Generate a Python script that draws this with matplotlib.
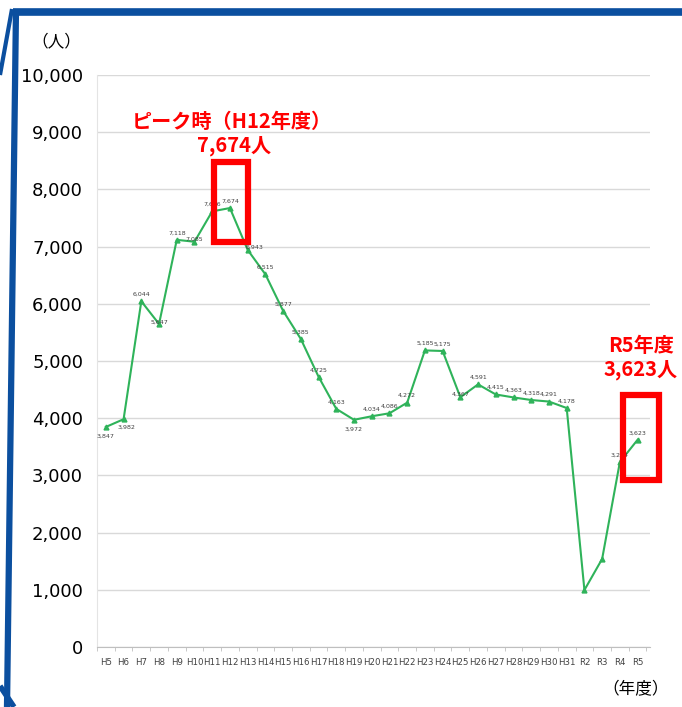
import numpy as np
import matplotlib.pyplot as plt
from matplotlib.lines import Line2D
from matplotlib.patches import Rectangle

plt.rcParams['font.family'] = ['Noto Sans CJK JP', 'DejaVu Sans']

years = ['H5', 'H6', 'H7', 'H8', 'H9', 'H10', 'H11', 'H12', 'H13', 'H14',
         'H15', 'H16', 'H17', 'H18', 'H19', 'H20', 'H21', 'H22', 'H23', 'H24',
         'H25', 'H26', 'H27', 'H28', 'H29', 'H30', 'H31', 'R2', 'R3', 'R4', 'R5']
people = [3847, 3982, 6044, 5647, 7118, 7085, 7616, 7674, 6943, 6515,
          5877, 5385, 4725, 4163, 3972, 4034, 4086, 4272, 5185, 5175,
          4367, 4591, 4415, 4363, 4318, 4291, 4178, 996, 1540, 3234, 3623]
# R2/R3 have no value label on the chart
show_label = [True] * 27 + [False, False, True, True]

yticks = np.arange(0, 10001, 1000)

W, H = 682, 707
fig = plt.figure(figsize=(W / 100, H / 100), dpi=100)
fig.patch.set_facecolor('white')

ax = fig.add_axes([97 / W, 60 / H, 553 / W, 572 / H])
x = np.arange(len(years))

ax.plot(x, people, color='#2fb35a', lw=1.5, marker='^', ms=3.5,
        mec='#2fb35a', mfc='#2fb35a', zorder=3)

# data labels, mostly just above the point
below = {'H5': (0, -7), 'H6': (2, -6), 'H19': (0, -7), 'H8': (0, 1),
         'H10': (0, 2), 'H13': (5, 2), 'H25': (0, 2)}
for i, (lab, v) in enumerate(zip(years, people)):
    if not show_label[i]:
        continue
    dx, dy = below.get(lab, (0, 5))
    ax.annotate(f'{v:,}', (i, v), xytext=(dx, dy), textcoords='offset points',
                ha='center', va='center', fontsize=4.5, color='#404040',
                family='DejaVu Sans', zorder=4)

ax.set_xlim(-0.5, 30.7)
ax.set_ylim(0, 10000)
ax.set_yticks(yticks)
ax.set_yticklabels([f'{t:,}' for t in yticks], fontsize=13, family='DejaVu Sans',
                   color='#000000')
ax.set_xticks(x)
ax.set_xticklabels(years, fontsize=6.2, family='DejaVu Sans', color='#404040')
ax.set_xticks(np.arange(-0.5, 31, 1), minor=True)
ax.tick_params(axis='x', which='major', length=0, pad=8)
ax.tick_params(axis='x', which='minor', length=3, color='#bfbfbf')
ax.tick_params(axis='y', length=0, pad=10)

ax.grid(axis='y', color='#d9d9d9', lw=1)
ax.set_axisbelow(True)
for s in ['top', 'right']:
    ax.spines[s].set_visible(False)
ax.spines['left'].set_color('#e4e4e4')
ax.spines['bottom'].set_color('#bfbfbf')

# highlight boxes
ax.add_patch(Rectangle((6.09, 7080), 1.92, 1400, fill=False, ec='#ff0000',
                       lw=4.5, zorder=5, clip_on=False))
ax.add_patch(Rectangle((29.19, 2928), 2.03, 1486, fill=False, ec='#ff0000',
                       lw=4.5, zorder=5, clip_on=False))

red = dict(color='#ff0000', fontsize=14.5, fontweight='bold', ha='center',
           va='center', transform=fig.transFigure)
fig.text(232 / W, 1 - 121 / H, 'ピーク時（H12年度）', **red)
fig.text(234 / W, 1 - 146 / H, '7,674人', **red)
fig.text(641 / W, 1 - 346 / H, 'R5年度', **red)
fig.text(641 / W, 1 - 369 / H, '3,623人', **red)

fig.text(56 / W, 1 - 42 / H, '（人）', fontsize=12, ha='center', va='center')
fig.text(636 / W, 1 - 690 / H, '（年度）', fontsize=12, ha='center', va='center')

# blue frame
blue = '#0b4f9f'
def px_line(x0, y0, x1, y1, lw):
    fig.add_artist(Line2D([x0 / W, x1 / W], [1 - y0 / H, 1 - y1 / H],
                          color=blue, lw=lw, solid_capstyle='butt',
                          transform=fig.transFigure))

px_line(13, 11.5, W, 11.5, 5.5)
px_line(16, 9, 7, 707, 4.5)
px_line(12, 9, 0, 75, 3)
px_line(0, 686, 14, 707, 4)

fig.savefig('out.png', dpi=100)
